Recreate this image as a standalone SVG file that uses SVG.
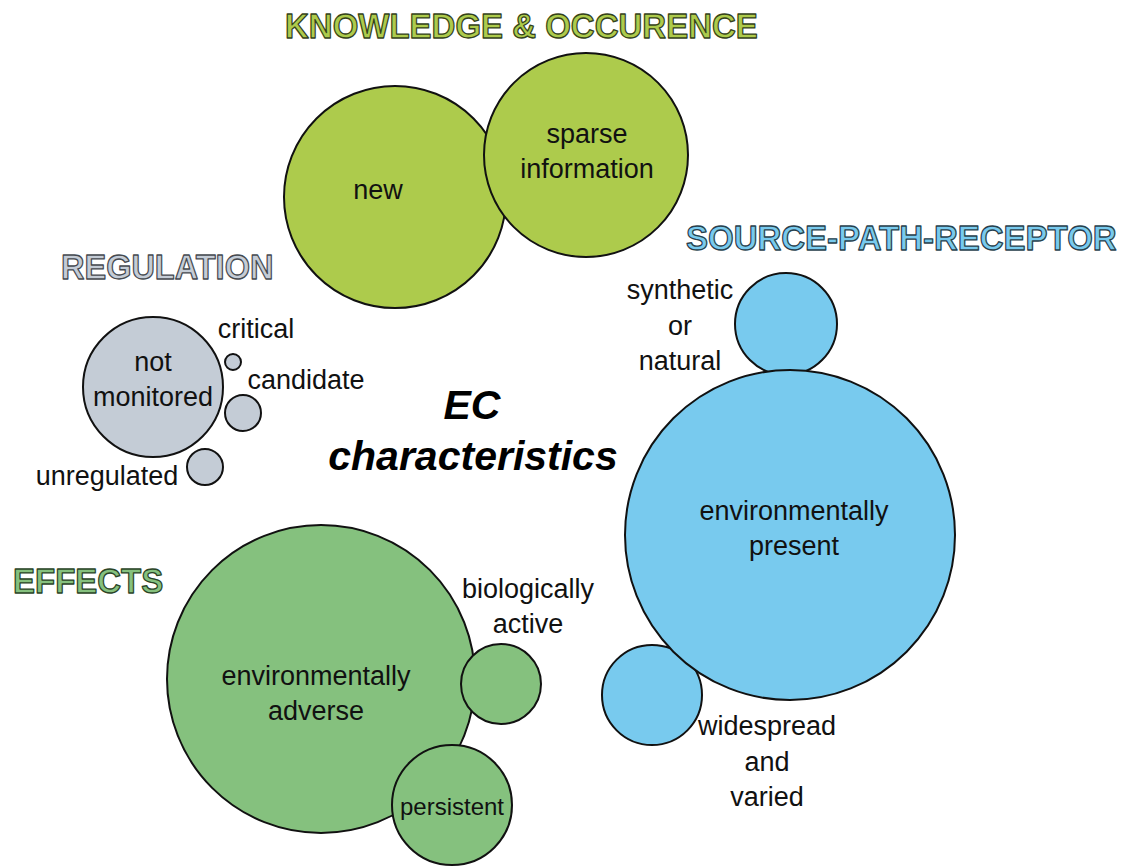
<svg xmlns="http://www.w3.org/2000/svg" width="1131" height="867" viewBox="0 0 1131 867">
  <style>
    .bubble { stroke: #111; stroke-width: 2; }
    .know { fill: #adcb4c; }
    .reg { fill: #c4ccd6; }
    .spr { fill: #78caee; }
    .eff { fill: #85c17e; }
    .lbl { font-family: "Liberation Sans", Arial, sans-serif; font-size: 27px; fill: #111; text-anchor: middle; }
    .title { font-family: "Liberation Sans", Arial, sans-serif; font-weight: bold; font-size: 33px; stroke-width: 1.2; stroke-linejoin: round; }
    .center { font-family: "Liberation Sans", Arial, sans-serif; font-weight: bold; font-style: italic; font-size: 41px; fill: #000; text-anchor: middle; }
  </style>
  <rect width="1131" height="867" fill="#ffffff"/>

  <!-- category titles (slightly tall lettering) -->
  <g id="titles">
    <text class="title" transform="translate(285,38) scale(1,1.09)" fill="#adcb4c" stroke="#34421a">KNOWLEDGE &amp; OCCURENCE</text>
    <text class="title" transform="translate(686,250) scale(1,1.09)" fill="#78caee" stroke="#283f4c">SOURCE-PATH-RECEPTOR</text>
    <text class="title" transform="translate(61,279) scale(0.985,1.09)" fill="#c4ccd6" stroke="#45494f">REGULATION</text>
    <text class="title" transform="translate(13,593) scale(1,1.09)" fill="#85c17e" stroke="#2a4427">EFFECTS</text>
  </g>

  <!-- knowledge & occurrence -->
  <g id="node-new">
    <circle class="bubble know" cx="395" cy="197" r="111"/>
    <text class="lbl" x="378" y="199">new</text>
  </g>
  <g id="node-sparse">
    <circle class="bubble know" cx="586" cy="155" r="102"/>
    <text class="lbl" x="587" y="143">sparse</text>
    <text class="lbl" x="587" y="178">information</text>
  </g>

  <!-- regulation -->
  <g id="node-not-monitored">
    <circle class="bubble reg" cx="153" cy="387" r="70"/>
    <text class="lbl" x="153" y="371">not</text>
    <text class="lbl" x="153" y="406">monitored</text>
  </g>
  <g id="node-critical">
    <circle class="bubble reg" cx="233" cy="362" r="8"/>
    <text class="lbl" x="256" y="338">critical</text>
  </g>
  <g id="node-candidate">
    <circle class="bubble reg" cx="243" cy="413" r="18"/>
    <text class="lbl" x="306" y="389">candidate</text>
  </g>
  <g id="node-unregulated">
    <circle class="bubble reg" cx="205" cy="467" r="18"/>
    <text class="lbl" x="107" y="485">unregulated</text>
  </g>

  <!-- centre label -->
  <g id="node-ec">
    <text class="center" x="472" y="419">EC</text>
    <text class="center" x="473" y="470">characteristics</text>
  </g>

  <!-- source-path-receptor -->
  <g id="node-synthetic">
    <circle class="bubble spr" cx="786" cy="324" r="51"/>
    <text class="lbl" x="680" y="299">synthetic</text>
    <text class="lbl" x="680" y="335">or</text>
    <text class="lbl" x="680" y="370">natural</text>
  </g>
  <g id="node-widespread">
    <circle class="bubble spr" cx="652" cy="695" r="50"/>
    <text class="lbl" x="767" y="735">widespread</text>
    <text class="lbl" x="767" y="771">and</text>
    <text class="lbl" x="767" y="806">varied</text>
  </g>
  <g id="node-present">
    <circle class="bubble spr" cx="790" cy="535" r="165"/>
    <text class="lbl" x="794" y="520">environmentally</text>
    <text class="lbl" x="794" y="555">present</text>
  </g>

  <!-- effects -->
  <g id="node-adverse">
    <circle class="bubble eff" cx="321" cy="679" r="154"/>
    <text class="lbl" x="316" y="685">environmentally</text>
    <text class="lbl" x="316" y="720">adverse</text>
  </g>
  <g id="node-bioactive">
    <circle class="bubble eff" cx="501" cy="684" r="40"/>
    <text class="lbl" x="528" y="598">biologically</text>
    <text class="lbl" x="528" y="633">active</text>
  </g>
  <g id="node-persistent">
    <circle class="bubble eff" cx="452" cy="805" r="60"/>
    <text class="lbl" x="452" y="815" style="font-size:24px">persistent</text>
  </g>
</svg>
